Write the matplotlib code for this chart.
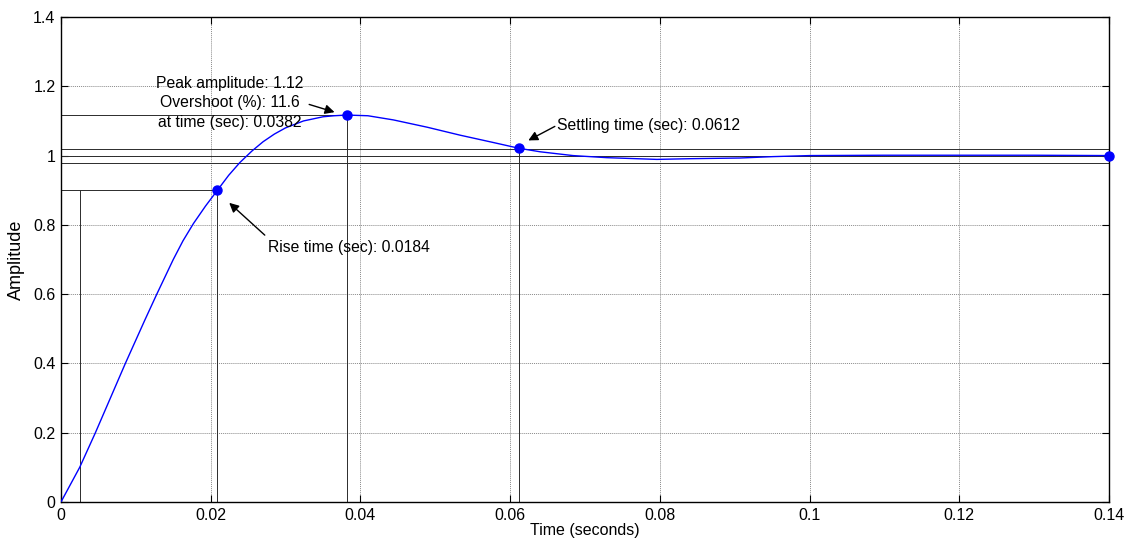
import matplotlib.pyplot as plt

plt.rcParams['font.family'] = ['Liberation Sans', 'DejaVu Sans']

# step response
t = [0, 0.0025, 0.0046, 0.0066, 0.0086, 0.0112, 0.0128, 0.0150, 0.0163, 0.0177,
     0.0193, 0.0209, 0.0224, 0.0239, 0.0255, 0.0270, 0.0285, 0.0300, 0.0324, 0.0350,
     0.0365, 0.0382, 0.0410, 0.0444, 0.0489, 0.0533, 0.0577, 0.0612, 0.0640, 0.0684,
     0.0729, 0.0796, 0.0840, 0.0907, 0.0951, 0.1000, 0.1100, 0.1200, 0.1300, 0.1400]
amp = [0, 0.10, 0.20, 0.30, 0.40, 0.525, 0.60, 0.70, 0.754, 0.804,
       0.854, 0.90, 0.943, 0.980, 1.013, 1.040, 1.062, 1.080, 1.100, 1.112,
       1.115, 1.117, 1.115, 1.103, 1.082, 1.059, 1.038, 1.021, 1.011, 1.000,
       0.994, 0.989, 0.991, 0.993, 0.997, 1.000, 1.001, 1.001, 1.001, 1.000]

rise_t0, rise_t1, rise_y = 0.0025, 0.0209, 0.9
peak_t, peak_y = 0.0382, 1.117
settle_t, settle_y = 0.0612, 1.021
final_t, final_y = 0.14, 1.0
settle_band = [0.98, 1.0, 1.02]

xticks = [0, 0.02, 0.04, 0.06, 0.08, 0.1, 0.12, 0.14]
xlabels = ['0', '0.02', '0.04', '0.06', '0.08', '0.1', '0.12', '0.14']
yticks = [0, 0.2, 0.4, 0.6, 0.8, 1.0, 1.2, 1.4]
ylabels = ['0', '0.2', '0.4', '0.6', '0.8', '1', '1.2', '1.4']

fig = plt.figure(figsize=(11.29, 5.42), dpi=100)
ax = fig.add_axes([0.054, 0.0738, 0.9283, 0.8948])

ax.set_xlim(0, 0.14)
ax.set_ylim(0, 1.4)
ax.set_xticks(xticks)
ax.set_xticklabels(xlabels)
ax.set_yticks(yticks)
ax.set_yticklabels(ylabels)
ax.tick_params(direction='in', length=5, labelsize=11.5, top=True, right=True, pad=4)
for s in ax.spines.values():
    s.set_linewidth(1.0)

ax.grid(True, color='#8a8a8a', linestyle=(0, (1, 1)), linewidth=0.7)
ax.set_axisbelow(True)

ref = dict(color='#2b2b2b', linewidth=0.7, zorder=2)
for yb in settle_band:
    ax.axhline(yb, **ref)
# rise time
ax.plot([0, rise_t1], [rise_y, rise_y], **ref)
ax.plot([rise_t0, rise_t0], [0, rise_y], **ref)
ax.plot([rise_t1, rise_t1], [0, rise_y], **ref)
# peak
ax.plot([0, peak_t], [peak_y, peak_y], **ref)
ax.plot([peak_t, peak_t], [0, peak_y], **ref)
# settling
ax.plot([settle_t, settle_t], [0, settle_y], **ref)

ax.plot(t, amp, color='#0000ff', linewidth=1.0, zorder=3)
ax.plot([rise_t1, peak_t, settle_t, final_t], [rise_y, peak_y, settle_y, final_y],
        'o', color='#0000ff', markersize=6.5, zorder=4, clip_on=False)

arrow = dict(arrowstyle='-|>', color='black', lw=1.0, mutation_scale=14)
ax.text(0.0226, 1.153, 'Peak amplitude: 1.12\nOvershoot (%): 11.6\nat time (sec): 0.0382',
        ha='center', va='center', fontsize=11.3, linespacing=1.38)
ax.annotate('', xy=(0.0369, 1.123), xytext=(0.0328, 1.150), arrowprops=arrow)

ax.text(0.0277, 0.736, 'Rise time (sec): 0.0184', ha='left', va='center', fontsize=11.3)
ax.annotate('', xy=(0.0222, 0.869), xytext=(0.0275, 0.765), arrowprops=arrow)

ax.text(0.0663, 1.088, 'Settling time (sec): 0.0612', ha='left', va='center', fontsize=11.3)
ax.annotate('', xy=(0.0621, 1.040), xytext=(0.0663, 1.088), arrowprops=arrow)

ax.set_xlabel('Time (seconds)', fontsize=11.5, labelpad=0)
ax.set_ylabel('Amplitude', fontsize=13, labelpad=6)

fig.savefig('out.png', dpi=100)
